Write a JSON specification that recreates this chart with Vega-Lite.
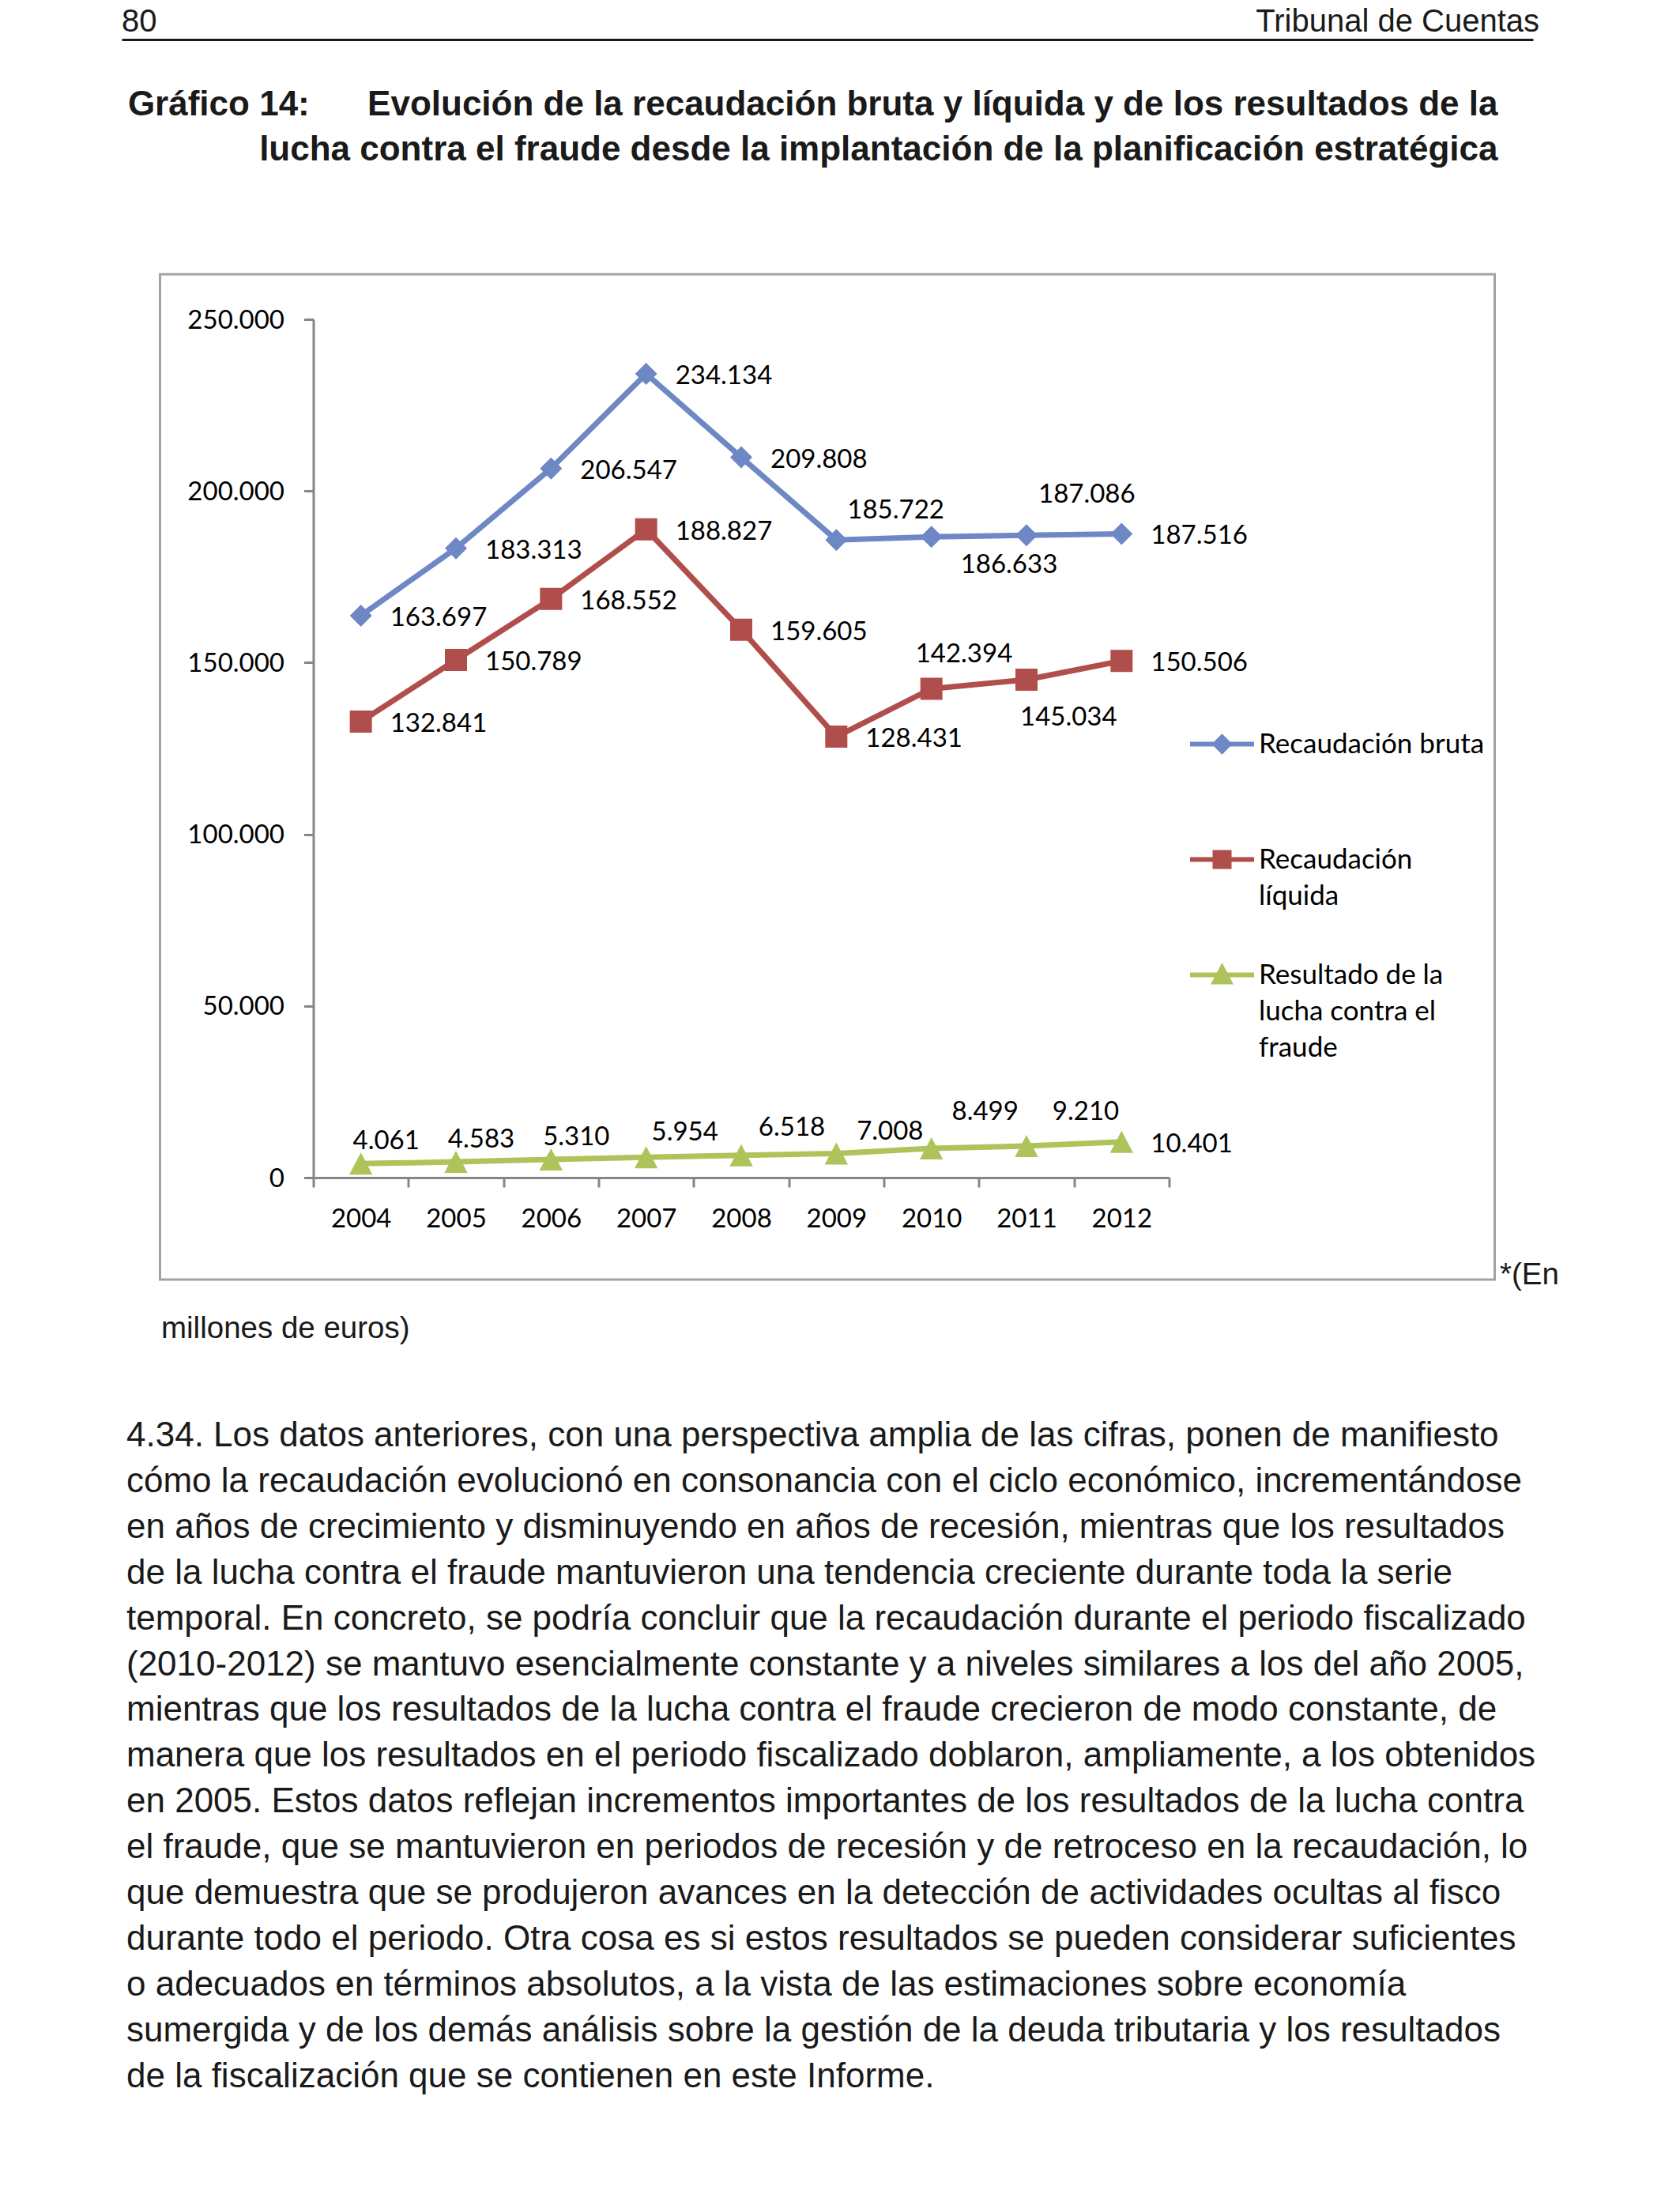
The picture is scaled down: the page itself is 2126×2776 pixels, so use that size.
{
  "$schema": "https://vega.github.io/schema/vega-lite/v6.json",
  "background": "white",
  "padding": {"left": 154, "top": 7, "right": 0, "bottom": 0},
  "config": {
    "locale": {"number": {"decimal": ",", "thousands": ".", "grouping": [3], "currency": ["", " €"]}},
    "style": {"guide-label": {"dy": 11, "lineHeight": 46}},
    "view": {"stroke": null}
  },
  "bounds": "flush",
  "center": true,
  "spacing": 296,
  "title": {
    "text": [
      "4.34. Los datos anteriores, con una perspectiva amplia de las cifras, ponen de manifiesto",
      "cómo la recaudación evolucionó en consonancia con el ciclo económico, incrementándose",
      "en años de crecimiento y disminuyendo en años de recesión, mientras que los resultados",
      "de la lucha contra el fraude mantuvieron una tendencia creciente durante toda la serie",
      "temporal. En concreto, se podría concluir que la recaudación durante el periodo fiscalizado",
      "(2010-2012) se mantuvo esencialmente constante y a niveles similares a los del año 2005,",
      "mientras que los resultados de la lucha contra el fraude crecieron de modo constante, de",
      "manera que los resultados en el periodo fiscalizado doblaron, ampliamente, a los obtenidos",
      "en 2005. Estos datos reflejan incrementos importantes de los resultados de la lucha contra",
      "el fraude, que se mantuvieron en periodos de recesión y de retroceso en la recaudación, lo",
      "que demuestra que se produjeron avances en la detección de actividades ocultas al fisco",
      "durante todo el periodo. Otra cosa es si estos resultados se pueden considerar suficientes",
      "o adecuados en términos absolutos, a la vista de las estimaciones sobre economía",
      "sumergida y de los demás análisis sobre la gestión de la deuda tributaria y los resultados",
      "de la fiscalización que se contienen en este Informe."
    ],
    "orient": "bottom",
    "anchor": "start",
    "align": "left",
    "frame": "group",
    "font": "Liberation Sans",
    "fontSize": 44,
    "fontWeight": "normal",
    "color": "#1a1a1a",
    "lineHeight": 57.9,
    "offset": 94,
    "dx": 6,
    "baseline": "top"
  },
  "vconcat": [
    {
      "width": 1786,
      "height": 1,
      "view": {"stroke": null},
      "data": {"values": [{"item": "80"}, {"item": "Tribunal de Cuentas"}]},
      "encoding": {
        "x": {
          "field": "item",
          "type": "nominal",
          "scale": {"type": "point", "padding": 0},
          "axis": {"orient": "top", "title": null, "labels": false, "ticks": false, "grid": false, "domain": true, "domainColor": "#1a1a1a", "domainWidth": 3}
        },
        "text": {"field": "item", "type": "nominal"}
      },
      "layer": [
        {
          "transform": [{"filter": "datum.item == '80'"}],
          "mark": {"type": "text", "align": "left", "baseline": "alphabetic", "dy": -11, "font": "Liberation Sans", "fontSize": 40, "color": "#1a1a1a"}
        },
        {
          "transform": [{"filter": "datum.item != '80'"}],
          "mark": {"type": "text", "align": "right", "baseline": "alphabetic", "dx": 8, "dy": -11, "font": "Liberation Sans", "fontSize": 40, "color": "#1a1a1a"}
        }
      ]
    },
    {
      "width": 1689,
      "height": 1272,
      "view": {"stroke": "#A2A2A2", "strokeWidth": 3},
      "title": {
        "text": [
          "Gráfico 14:\u00a0\u00a0\u00a0\u00a0\u00a0\u00a0Evolución de la recaudación bruta y líquida y de los resultados de la",
          "lucha contra el fraude desde la implantación de la planificación estratégica"
        ],
        "orient": "top",
        "anchor": "end",
        "align": "right",
        "frame": "group",
        "font": "Liberation Sans",
        "fontSize": 44,
        "fontWeight": "bold",
        "color": "#1a1a1a",
        "lineHeight": 57,
        "offset": 135,
        "dx": 4,
        "baseline": "top"
      },
      "data": {
        "values": [
          {"anio": "2004", "serie": "Recaudación bruta", "valor": 163697},
          {"anio": "2005", "serie": "Recaudación bruta", "valor": 183313},
          {"anio": "2006", "serie": "Recaudación bruta", "valor": 206547},
          {"anio": "2007", "serie": "Recaudación bruta", "valor": 234134},
          {"anio": "2008", "serie": "Recaudación bruta", "valor": 209808},
          {"anio": "2009", "serie": "Recaudación bruta", "valor": 185722},
          {"anio": "2010", "serie": "Recaudación bruta", "valor": 186633},
          {"anio": "2011", "serie": "Recaudación bruta", "valor": 187086},
          {"anio": "2012", "serie": "Recaudación bruta", "valor": 187516},
          {"anio": "2004", "serie": "Recaudación líquida", "valor": 132841},
          {"anio": "2005", "serie": "Recaudación líquida", "valor": 150789},
          {"anio": "2006", "serie": "Recaudación líquida", "valor": 168552},
          {"anio": "2007", "serie": "Recaudación líquida", "valor": 188827},
          {"anio": "2008", "serie": "Recaudación líquida", "valor": 159605},
          {"anio": "2009", "serie": "Recaudación líquida", "valor": 128431},
          {"anio": "2010", "serie": "Recaudación líquida", "valor": 142394},
          {"anio": "2011", "serie": "Recaudación líquida", "valor": 145034},
          {"anio": "2012", "serie": "Recaudación líquida", "valor": 150506},
          {"anio": "2004", "serie": "Resultado de la lucha contra el fraude", "valor": 4061},
          {"anio": "2005", "serie": "Resultado de la lucha contra el fraude", "valor": 4583},
          {"anio": "2006", "serie": "Resultado de la lucha contra el fraude", "valor": 5310},
          {"anio": "2007", "serie": "Resultado de la lucha contra el fraude", "valor": 5954},
          {"anio": "2008", "serie": "Resultado de la lucha contra el fraude", "valor": 6518},
          {"anio": "2009", "serie": "Resultado de la lucha contra el fraude", "valor": 7008},
          {"anio": "2010", "serie": "Resultado de la lucha contra el fraude", "valor": 8499},
          {"anio": "2011", "serie": "Resultado de la lucha contra el fraude", "valor": 9210},
          {"anio": "2012", "serie": "Resultado de la lucha contra el fraude", "valor": 10401}
        ]
      },
      "encoding": {
        "x": {
          "field": "anio",
          "type": "ordinal",
          "bandPosition": 0.5,
          "scale": {"type": "band", "domain": ["2004", "2005", "2006", "2007", "2008", "2009", "2010", "2011", "2012"], "range": [194, 1277], "paddingInner": 0, "paddingOuter": 0},
          "axis": {
            "orient": "bottom",
            "offset": -129,
            "title": "millones de euros)",
            "titleFont": "Liberation Sans",
            "titleFontSize": 38.5,
            "titleFontWeight": "normal",
            "titleColor": "#1a1a1a",
            "titleAnchor": "start",
            "titleAlign": "left",
            "titleBaseline": "alphabetic",
            "titleX": 1,
            "titleY": 202,
            "domainColor": "#868686",
            "domainWidth": 3,
            "tickColor": "#868686",
            "tickWidth": 3,
            "tickSize": 12,
            "tickBand": "extent",
            "labelFont": "Lato",
            "labelFontSize": 33,
            "labelColor": "#000000",
            "labelAngle": 0,
            "labelPadding": 13,
            "grid": false
          }
        }
      },
      "layer": [
        {
          "mark": {"type": "line", "strokeWidth": 7},
          "encoding": {
            "y": {
              "field": "valor",
              "type": "quantitative",
              "scale": {"domain": [0, 250000], "range": [1143, 57], "nice": false, "zero": true},
              "axis": {
                "orient": "left",
                "offset": -194,
                "title": null,
                "values": [0, 50000, 100000, 150000, 200000, 250000],
                "format": ",d",
                "domainColor": "#868686",
                "domainWidth": 3,
                "tickColor": "#868686",
                "tickWidth": 3,
                "tickSize": 12,
                "labelFont": "Lato",
                "labelFontSize": 33,
                "labelColor": "#000000",
                "labelPadding": 25,
                "labelBaseline": "alphabetic",
                "grid": false
              }
            },
            "color": {
              "field": "serie",
              "type": "nominal",
              "scale": {"domain": ["Resultado de la lucha contra el fraude", "Recaudación líquida", "Recaudación bruta"], "range": ["#AEC359", "#B04E4B", "#6E87C5"]},
              "legend": null
            }
          }
        },
        {
          "mark": {"type": "point", "filled": true, "opacity": 1},
          "encoding": {
            "y": {
              "field": "valor",
              "type": "quantitative",
              "axis": {
                "orient": "right",
                "offset": 0,
                "domain": false,
                "ticks": false,
                "labels": false,
                "grid": false,
                "title": "*(En",
                "titleAngle": 0,
                "titleAlign": "left",
                "titleBaseline": "alphabetic",
                "titleFont": "Liberation Sans",
                "titleFontSize": 38.5,
                "titleFontWeight": "normal",
                "titleColor": "#1a1a1a",
                "titleX": 6,
                "titleY": 1277
              }
            },
            "shape": {
              "field": "serie",
              "type": "nominal",
              "scale": {
                "domain": ["Recaudación bruta", "Recaudación líquida", "Resultado de la lucha contra el fraude"],
                "range": ["M-4.5,0H4.5M0,-1L1,0L0,1L-1,0Z", "M-4.5,0H4.5M-1,-1H1V1H-1Z", "M-4.5,0H4.5M0,-1L1.05,1H-1.05Z"]
              },
              "legend": {
                "title": null, "orient": "none", "legendX": 1375, "legendY": 874, "padding": 0,
                "labelFont": "Lato", "labelFontSize": 35, "labelColor": "#000000", "labelLimit": 600,
                "labelOffset": 29, "labelBaseline": "alphabetic", "symbolSize": 324, "symbolStrokeWidth": 6, "rowPadding": 14,
                "labelExpr": "datum.label == 'Recaudación bruta' ? ['Recaudación bruta', '', ''] : datum.label == 'Recaudación líquida' ? ['Recaudación', 'líquida', ''] : ['Resultado de la', 'lucha contra el', 'fraude']"
              }
            },
            "fill": {
              "field": "serie",
              "type": "nominal",
              "scale": {"domain": ["Recaudación bruta", "Recaudación líquida", "Resultado de la lucha contra el fraude"], "range": ["#6E87C5", "#B04E4B", "#AEC359"]},
              "legend": {
                "title": null, "orient": "none", "legendX": 1375, "legendY": 874, "padding": 0,
                "labelFont": "Lato", "labelFontSize": 35, "labelColor": "#000000", "labelLimit": 600,
                "labelOffset": 29, "labelBaseline": "alphabetic", "symbolSize": 324, "symbolStrokeWidth": 6, "rowPadding": 14,
                "labelExpr": "datum.label == 'Recaudación bruta' ? ['Recaudación bruta', '', ''] : datum.label == 'Recaudación líquida' ? ['Recaudación', 'líquida', ''] : ['Resultado de la', 'lucha contra el', 'fraude']"
              }
            },
            "stroke": {
              "field": "serie",
              "type": "nominal",
              "scale": {"domain": ["Recaudación bruta", "Recaudación líquida", "Resultado de la lucha contra el fraude"], "range": ["#6E87C5", "#B04E4B", "#AEC359"]},
              "legend": {
                "title": null, "orient": "none", "legendX": 1375, "legendY": 874, "padding": 0,
                "labelFont": "Lato", "labelFontSize": 35, "labelColor": "#000000", "labelLimit": 600,
                "labelOffset": 29, "labelBaseline": "alphabetic", "symbolSize": 324, "symbolStrokeWidth": 6, "rowPadding": 14,
                "labelExpr": "datum.label == 'Recaudación bruta' ? ['Recaudación bruta', '', ''] : datum.label == 'Recaudación líquida' ? ['Recaudación', 'líquida', ''] : ['Resultado de la', 'lucha contra el', 'fraude']"
              }
            },
            "strokeWidth": {"value": 0},
            "size": {"value": 784}
          }
        },
        {
          "transform": [{"filter": "(datum.serie == 'Recaudación bruta' && indexof(['2004','2005','2006','2007','2008','2012'], datum.anio) >= 0) || (datum.serie == 'Recaudación líquida' && indexof(['2004','2005','2006','2007','2008','2009','2012'], datum.anio) >= 0) || (datum.serie == 'Resultado de la lucha contra el fraude' && datum.anio == '2012')"}],
          "mark": {"type": "text", "align": "left", "baseline": "middle", "dx": 37, "dy": 3, "font": "Lato", "fontSize": 33, "color": "#000000"},
          "encoding": {"y": {"field": "valor", "type": "quantitative", "axis": null}, "text": {"field": "valor", "type": "quantitative", "format": ",d"}}
        },
        {
          "transform": [{"filter": "datum.serie == 'Recaudación bruta' && datum.anio == '2009'"}],
          "mark": {"type": "text", "align": "left", "baseline": "middle", "dx": 14, "dy": -37, "font": "Lato", "fontSize": 33, "color": "#000000"},
          "encoding": {"y": {"field": "valor", "type": "quantitative", "axis": null}, "text": {"field": "valor", "type": "quantitative", "format": ",d"}}
        },
        {
          "transform": [{"filter": "datum.serie == 'Recaudación bruta' && datum.anio == '2010'"}],
          "mark": {"type": "text", "align": "left", "baseline": "middle", "dx": 37, "dy": 36, "font": "Lato", "fontSize": 33, "color": "#000000"},
          "encoding": {"y": {"field": "valor", "type": "quantitative", "axis": null}, "text": {"field": "valor", "type": "quantitative", "format": ",d"}}
        },
        {
          "transform": [{"filter": "datum.serie == 'Recaudación bruta' && datum.anio == '2011'"}],
          "mark": {"type": "text", "align": "left", "baseline": "middle", "dx": 15, "dy": -51, "font": "Lato", "fontSize": 33, "color": "#000000"},
          "encoding": {"y": {"field": "valor", "type": "quantitative", "axis": null}, "text": {"field": "valor", "type": "quantitative", "format": ",d"}}
        },
        {
          "transform": [{"filter": "datum.serie == 'Recaudación líquida' && datum.anio == '2010'"}],
          "mark": {"type": "text", "align": "left", "baseline": "middle", "dx": -20, "dy": -43, "font": "Lato", "fontSize": 33, "color": "#000000"},
          "encoding": {"y": {"field": "valor", "type": "quantitative", "axis": null}, "text": {"field": "valor", "type": "quantitative", "format": ",d"}}
        },
        {
          "transform": [{"filter": "datum.serie == 'Recaudación líquida' && datum.anio == '2011'"}],
          "mark": {"type": "text", "align": "left", "baseline": "middle", "dx": -8, "dy": 48, "font": "Lato", "fontSize": 33, "color": "#000000"},
          "encoding": {"y": {"field": "valor", "type": "quantitative", "axis": null}, "text": {"field": "valor", "type": "quantitative", "format": ",d"}}
        },
        {
          "transform": [{"filter": "datum.serie == 'Resultado de la lucha contra el fraude' && indexof(['2004','2005','2006'], datum.anio) >= 0"}],
          "mark": {"type": "text", "align": "center", "baseline": "middle", "dx": 32, "dy": -28, "font": "Lato", "fontSize": 33, "color": "#000000"},
          "encoding": {"y": {"field": "valor", "type": "quantitative", "axis": null}, "text": {"field": "valor", "type": "quantitative", "format": ",d"}}
        },
        {
          "transform": [{"filter": "datum.serie == 'Resultado de la lucha contra el fraude' && datum.anio == '2007'"}],
          "mark": {"type": "text", "align": "center", "baseline": "middle", "dx": 49, "dy": -31, "font": "Lato", "fontSize": 33, "color": "#000000"},
          "encoding": {"y": {"field": "valor", "type": "quantitative", "axis": null}, "text": {"field": "valor", "type": "quantitative", "format": ",d"}}
        },
        {
          "transform": [{"filter": "datum.serie == 'Resultado de la lucha contra el fraude' && datum.anio == '2008'"}],
          "mark": {"type": "text", "align": "center", "baseline": "middle", "dx": 64, "dy": -35, "font": "Lato", "fontSize": 33, "color": "#000000"},
          "encoding": {"y": {"field": "valor", "type": "quantitative", "axis": null}, "text": {"field": "valor", "type": "quantitative", "format": ",d"}}
        },
        {
          "transform": [{"filter": "datum.serie == 'Resultado de la lucha contra el fraude' && datum.anio == '2009'"}],
          "mark": {"type": "text", "align": "center", "baseline": "middle", "dx": 68, "dy": -28, "font": "Lato", "fontSize": 33, "color": "#000000"},
          "encoding": {"y": {"field": "valor", "type": "quantitative", "axis": null}, "text": {"field": "valor", "type": "quantitative", "format": ",d"}}
        },
        {
          "transform": [{"filter": "datum.serie == 'Resultado de la lucha contra el fraude' && datum.anio == '2010'"}],
          "mark": {"type": "text", "align": "center", "baseline": "middle", "dx": 68, "dy": -46, "font": "Lato", "fontSize": 33, "color": "#000000"},
          "encoding": {"y": {"field": "valor", "type": "quantitative", "axis": null}, "text": {"field": "valor", "type": "quantitative", "format": ",d"}}
        },
        {
          "transform": [{"filter": "datum.serie == 'Resultado de la lucha contra el fraude' && datum.anio == '2011'"}],
          "mark": {"type": "text", "align": "center", "baseline": "middle", "dx": 75, "dy": -43, "font": "Lato", "fontSize": 33, "color": "#000000"},
          "encoding": {"y": {"field": "valor", "type": "quantitative", "axis": null}, "text": {"field": "valor", "type": "quantitative", "format": ",d"}}
        }
      ],
      "resolve": {"axis": {"y": "independent"}}
    }
  ]
}
